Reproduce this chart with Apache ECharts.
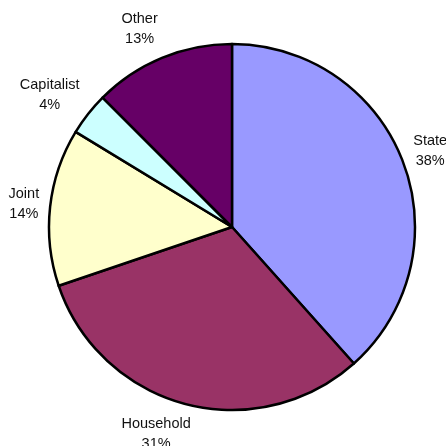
<!DOCTYPE html>
<html>
<head>
<meta charset="utf-8">
<script src="https://cdn.jsdelivr.net/npm/echarts@6/dist/echarts.min.js"></script>
<style>
html,body{margin:0;padding:0;background:#fff;}
#chart{width:446px;height:446px;}
</style>
</head>
<body>
<div id="chart"></div>
<script>
const categories = ['State', 'Household', 'Joint', 'Capitalist', 'Other'];
const shares = [38.4, 31.4, 13.9, 3.8, 12.5];
const colors = ['#9999FF', '#993366', '#FFFFCC', '#CCFFFF', '#660066'];

const CX = 232, CY = 227, R = 183, GAP = 11;
const total = shares.reduce((a, b) => a + b, 0);

const chart = echarts.init(document.getElementById('chart'), null, {renderer: 'canvas'});
chart.setOption({
  animation: false,
  backgroundColor: '#ffffff',
  series: [{
    type: 'pie',
    center: [CX, CY],
    radius: [0, R],
    startAngle: 90,
    clockwise: true,
    percentPrecision: 0,
    avoidLabelOverlap: false,
    data: categories.map((n, i) => ({name: n, value: shares[i], itemStyle: {color: colors[i]}})),
    itemStyle: {borderColor: '#000', borderWidth: 2.5},
    emphasis: {disabled: true},
    label: {
      show: true,
      position: 'outside',
      formatter: '{b}\n{d}%',
      fontFamily: 'Liberation Sans, Arial, sans-serif',
      fontSize: 14.5,
      lineHeight: 20,
      color: '#111',
      align: 'center'
    },
    labelLine: {show: false},
    labelLayout: function (p) {
      const i = p.dataIndex;
      let cum = 0;
      for (let k = 0; k < i; k++) cum += shares[k];
      cum += shares[i] / 2;
      const a = cum / total * Math.PI * 2;
      const ux = Math.sin(a), uy = -Math.cos(a);
      const hw = p.labelRect.width / 2, hh = p.labelRect.height / 2;
      const px = CX + ux * (R + GAP), py = CY + uy * (R + GAP);
      const ox = hw * Math.sign(ux) * Math.min(1, Math.abs(ux) * 3);
      const oy = hh * uy;
      return {x: px + ox, y: py + oy, align: 'center', verticalAlign: 'middle'};
    }
  }]
});
</script>
</body>
</html>
